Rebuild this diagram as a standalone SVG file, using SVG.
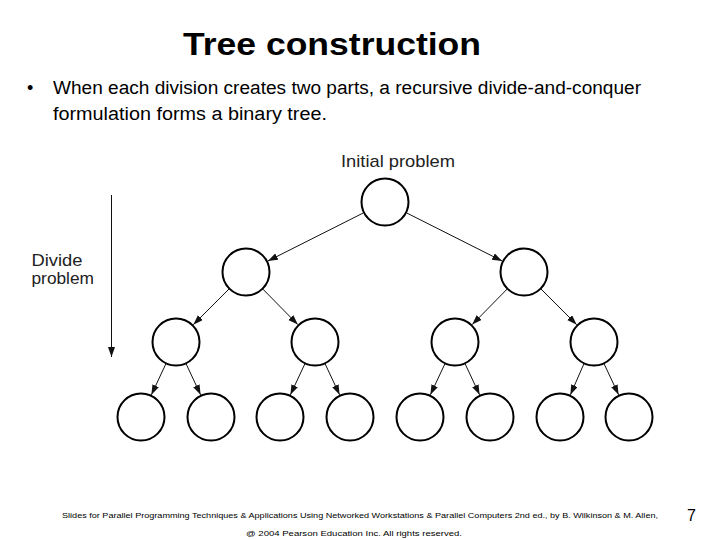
<svg xmlns="http://www.w3.org/2000/svg" width="720" height="540" viewBox="0 0 720 540">
<style>
text{font-family:"Liberation Sans",Arial,Helvetica,sans-serif;fill:#000}
.node{fill:#fff;stroke:#000;stroke-width:2}
.edge{stroke:#111;stroke-width:1;fill:none}
.lbl{font-size:17px;fill:#222}
.foot{font-size:8px}
</style>
<defs>
<marker id="ah" markerUnits="userSpaceOnUse" markerWidth="11" markerHeight="8" refX="10" refY="3.5" orient="auto">
<path d="M0,0 L10,3.5 L0,7 z" fill="#111"/>
</marker>
</defs>
<rect width="720" height="540" fill="#fff"/>
<text x="183" y="55" font-size="32" font-weight="bold" textLength="298" lengthAdjust="spacingAndGlyphs">Tree construction</text>
<text x="27" y="94" font-size="18">•</text>
<text x="53" y="94" font-size="18" textLength="588" lengthAdjust="spacingAndGlyphs">When each division creates two parts, a recursive divide-and-conquer</text>
<text x="53" y="119.5" font-size="18" textLength="274" lengthAdjust="spacingAndGlyphs">formulation forms a binary tree.</text>
<g id="label-initial"><text class="lbl" x="341" y="166.5" textLength="114" lengthAdjust="spacingAndGlyphs">Initial problem</text></g>
<g id="label-divide">
<text class="lbl" x="31.5" y="266" textLength="51" lengthAdjust="spacingAndGlyphs">Divide</text>
<text class="lbl" x="31.5" y="284" textLength="62.5" lengthAdjust="spacingAndGlyphs">problem</text>
</g>
<g id="connectors">
<line class="edge" x1="111.5" y1="195" x2="111.5" y2="357" marker-end="url(#ah)"/>
<line class="edge" x1="363.6" y1="212.8" x2="267.9" y2="261" marker-end="url(#ah)"/>
<line class="edge" x1="406.4" y1="212.8" x2="502.1" y2="261" marker-end="url(#ah)"/>
<line class="edge" x1="229" y1="289" x2="193.3" y2="324.7" marker-end="url(#ah)"/>
<line class="edge" x1="262.9" y1="289.1" x2="297.8" y2="324.6" marker-end="url(#ah)"/>
<line class="edge" x1="507.1" y1="289.1" x2="472.2" y2="324.6" marker-end="url(#ah)"/>
<line class="edge" x1="541" y1="289" x2="576.7" y2="324.7" marker-end="url(#ah)"/>
<line class="edge" x1="165.9" y1="363.8" x2="151.4" y2="394.8" marker-end="url(#ah)"/>
<line class="edge" x1="186.1" y1="363.8" x2="200.6" y2="394.8" marker-end="url(#ah)"/>
<line class="edge" x1="304.9" y1="363.8" x2="290.4" y2="394.8" marker-end="url(#ah)"/>
<line class="edge" x1="325.1" y1="363.8" x2="339.6" y2="394.8" marker-end="url(#ah)"/>
<line class="edge" x1="444.9" y1="363.8" x2="430.4" y2="394.8" marker-end="url(#ah)"/>
<line class="edge" x1="465.1" y1="363.8" x2="479.6" y2="394.8" marker-end="url(#ah)"/>
<line class="edge" x1="583.9" y1="363.8" x2="570.4" y2="394.8" marker-end="url(#ah)"/>
<line class="edge" x1="604.1" y1="363.8" x2="618.6" y2="394.8" marker-end="url(#ah)"/>
</g>
<g id="n0"><circle class="node" cx="385" cy="202" r="23.5"/></g>
<g id="n1"><circle class="node" cx="246" cy="272" r="23.5"/></g>
<g id="n2"><circle class="node" cx="524" cy="272" r="23.5"/></g>
<g id="n3"><circle class="node" cx="176" cy="342" r="23.5"/></g>
<g id="n4"><circle class="node" cx="315" cy="342" r="23.5"/></g>
<g id="n5"><circle class="node" cx="455" cy="342" r="23.5"/></g>
<g id="n6"><circle class="node" cx="594" cy="342" r="23.5"/></g>
<g id="n7"><circle class="node" cx="141" cy="417" r="23.5"/></g>
<g id="n8"><circle class="node" cx="211" cy="417" r="23.5"/></g>
<g id="n9"><circle class="node" cx="280" cy="417" r="23.5"/></g>
<g id="n10"><circle class="node" cx="350" cy="417" r="23.5"/></g>
<g id="n11"><circle class="node" cx="420" cy="417" r="23.5"/></g>
<g id="n12"><circle class="node" cx="490" cy="417" r="23.5"/></g>
<g id="n13"><circle class="node" cx="560" cy="417" r="23.5"/></g>
<g id="n14"><circle class="node" cx="629" cy="417" r="23.5"/></g>
<text class="foot" x="62" y="518" textLength="596" lengthAdjust="spacingAndGlyphs">Slides for Parallel Programming Techniques &amp; Applications Using Networked Workstations &amp; Parallel Computers 2nd ed., by B. Wilkinson &amp; M. Allen,</text>
<text class="foot" x="246" y="536" textLength="216" lengthAdjust="spacingAndGlyphs">@ 2004 Pearson Education Inc. All rights reserved.</text>
<text x="687" y="521" font-size="16">7</text>
</svg>
